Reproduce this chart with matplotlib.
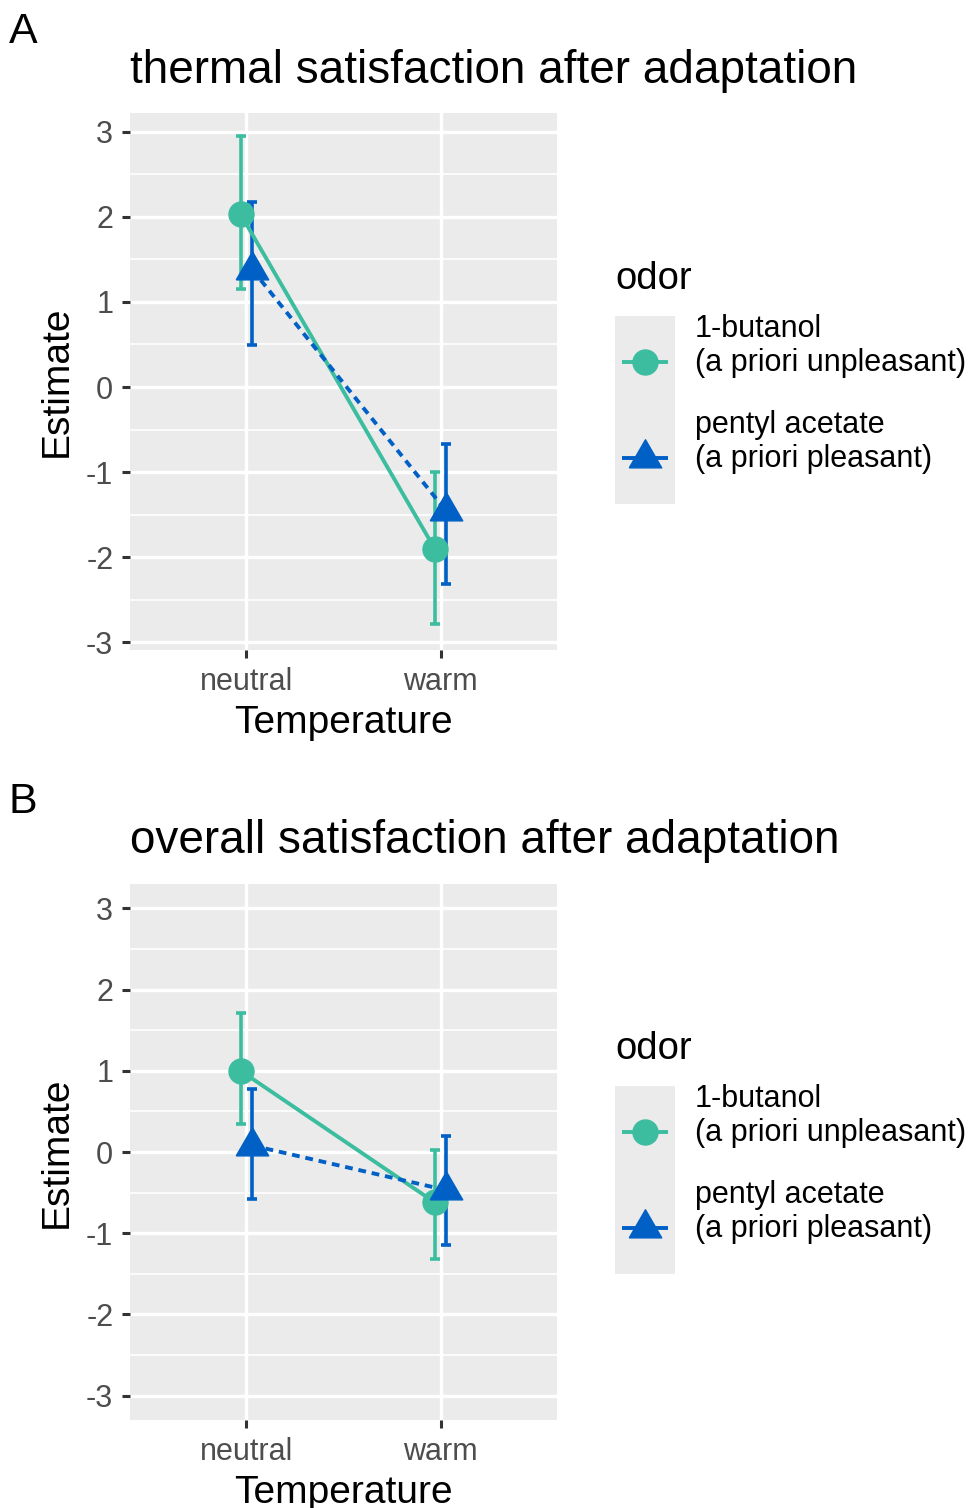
import numpy as np
import matplotlib
matplotlib.use("Agg")
import matplotlib.pyplot as plt

plt.rcParams['font.family'] = ['Liberation Sans', 'DejaVu Sans']
plt.rcParams['axes.unicode_minus'] = False

temps = ['neutral', 'warm']
odors = ['1-butanol\n(a priori unpleasant)', 'pentyl acetate\n(a priori pleasant)']

# panel A: thermal satisfaction
a_butanol = [2.03, -1.90]
a_butanol_lo = [1.15, -2.78]
a_butanol_hi = [2.95, -1.00]
a_pentyl = [1.38, -1.46]
a_pentyl_lo = [0.49, -2.31]
a_pentyl_hi = [2.18, -0.67]

# panel B: overall satisfaction
b_butanol = [1.00, -0.62]
b_butanol_lo = [0.34, -1.32]
b_butanol_hi = [1.71, 0.03]
b_pentyl = [0.08, -0.47]
b_pentyl_lo = [-0.58, -1.14]
b_pentyl_hi = [0.78, 0.20]

teal = '#3DBDA0'
blue = '#0060C6'
grey_bg = '#EBEBEB'

# equilateral triangle like ggplot shape 17
tri = [(-0.866, -0.5), (0.866, -0.5), (0, 1.0), (-0.866, -0.5)]

fig = plt.figure(figsize=(9.69, 15.08), dpi=100)


def panel(rect, title, letter, letter_y, title_y, ylims, series):
    ax = fig.add_axes(rect)
    ax.set_facecolor(grey_bg)
    x = np.arange(1, 3)
    dodge = 0.03
    for (est, lo, hi, col, mk, ls, ms, off) in series:
        xs = x + off * dodge
        est = np.array(est); lo = np.array(lo); hi = np.array(hi)
        ax.errorbar(xs, est, yerr=[est - lo, hi - est], fmt='none', ecolor=col,
                    elinewidth=2.6, capsize=3.8, capthick=2.6, zorder=3)
        ax.plot(xs, est, color=col, lw=2.8, ls=ls, zorder=4)
        ax.plot(xs, est, color=col, marker=mk, ms=ms, ls='none', zorder=5)
    ax.set_xlim(0.4, 2.6)
    ax.set_ylim(*ylims)
    ax.set_xticks(x)
    ax.set_xticklabels(temps)
    ax.set_yticks(np.arange(-3, 4))
    ax.set_yticks(np.arange(-2.5, 3.0, 1.0), minor=True)
    ax.grid(True, which='major', color='white', lw=2.4)
    ax.grid(True, which='minor', axis='y', color='white', lw=1.2)
    ax.set_axisbelow(True)
    for s in ax.spines.values():
        s.set_visible(False)
    ax.tick_params(axis='both', which='major', length=6, width=2.2, color='#333333',
                   labelsize=22, labelcolor='#4D4D4D', pad=6)
    ax.tick_params(axis='both', which='minor', length=0)
    ax.set_xlabel('Temperature', fontsize=28, labelpad=6)
    ax.set_ylabel('Estimate', fontsize=28, labelpad=8)
    fig.text(130 / 969, 1 - title_y / 1508, title, fontsize=33, ha='left', va='center')
    fig.text(9 / 969, 1 - letter_y / 1508, letter, fontsize=31, ha='left', va='center')

    # legend
    lx = 615 / 969
    fig.text(lx, 1 - (title_y + 208) / 1508, 'odor', fontsize=27.5, ha='left', va='center')
    kax = fig.add_axes([lx, 1 - (title_y + 433) / 1508, 60 / 969, 188 / 1508])
    kax.set_facecolor(grey_bg)
    kax.set_xlim(0, 1)
    kax.set_ylim(0, 1)
    kax.set_xticks([])
    kax.set_yticks([])
    for s in kax.spines.values():
        s.set_visible(False)
    key_y = [0.755, 0.245]
    for ky, (est, lo, hi, col, mk, ls, ms, off), lab in zip(key_y, series, odors):
        kax.plot([0.12, 0.88], [ky, ky], color=col, lw=2.8, solid_capstyle='butt')
        kax.plot([0.5], [ky], color=col, marker=mk, ms=ms, ls='none')
        fig.text(695 / 969, 1 - (title_y + 433 - 188 * ky - 16) / 1508, lab, fontsize=22,
                 ha='left', va='center', linespacing=1.2)
    return ax


panel([130 / 969, 1 - 650 / 1508, 427 / 969, 537 / 1508],
      'thermal satisfaction after adaptation', 'A', 32, 71, (-3.09, 3.22),
      [(a_butanol, a_butanol_lo, a_butanol_hi, teal, 'o', '-', 18, -1),
       (a_pentyl, a_pentyl_lo, a_pentyl_hi, blue, tri, (0, (2, 1.5)), 27, 1)])

panel([130 / 969, 1 - 1420 / 1508, 427 / 969, 536 / 1508],
      'overall satisfaction after adaptation', 'B', 802, 841, (-3.3, 3.3),
      [(b_butanol, b_butanol_lo, b_butanol_hi, teal, 'o', '-', 18, -1),
       (b_pentyl, b_pentyl_lo, b_pentyl_hi, blue, tri, (0, (2, 1.5)), 27, 1)])

fig.savefig('out.png', dpi=100)
